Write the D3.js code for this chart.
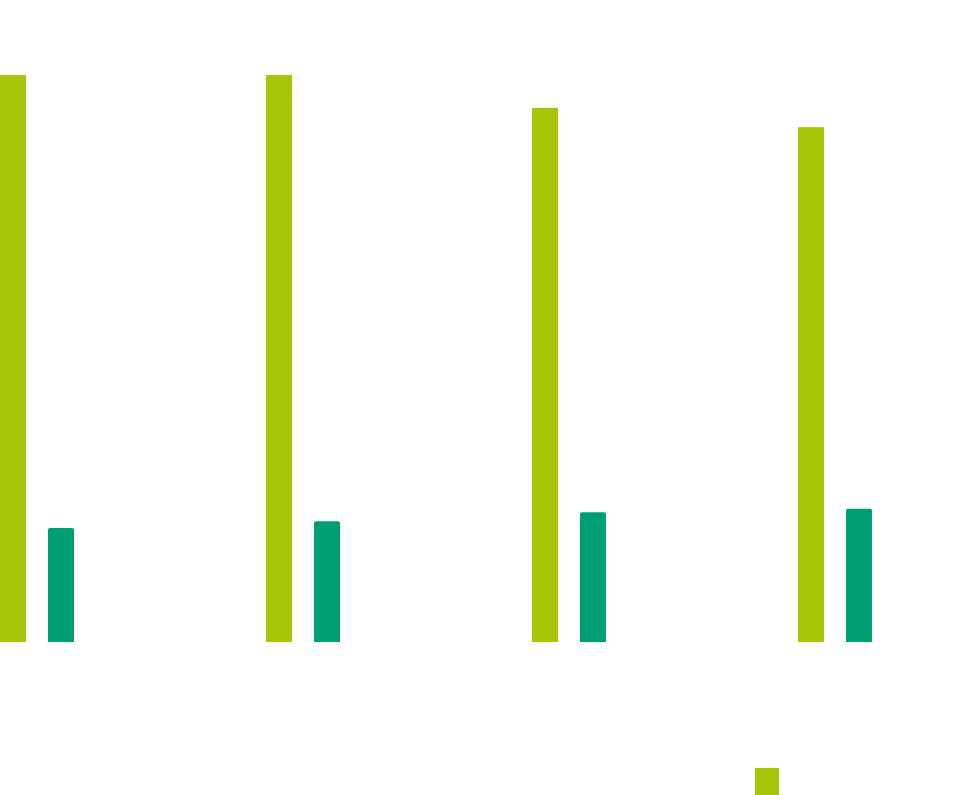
<!DOCTYPE html>
<html>
<head>
<meta charset="utf-8">
<script src="https://cdn.jsdelivr.net/npm/d3@7"></script>
<style>body{margin:0;background:#fff;}</style>
</head>
<body>
<svg id="chart" width="960" height="795"></svg>
<script>
const categories = ['A', 'B', 'C', 'D'];
const seriesA = [100, 100, 94.2, 90.8];
const seriesB = [20.1, 21.3, 22.9, 23.5];
const colors = ['#a8c605', '#009e73'];

const width = 960, height = 795;
const baseline = 642;
const svg = d3.select('#chart');

const x = d3.scaleBand().domain(categories).range([0, 1064]);
const y = d3.scaleLinear().domain([0, 100]).range([baseline, 75]);
const barW = 26;

// green bars
svg.selectAll('.a').data(seriesA).join('rect')
  .attr('x', (d, i) => x(categories[i]))
  .attr('y', d => y(d))
  .attr('width', barW)
  .attr('height', d => baseline - y(d))
  .attr('fill', colors[0]);

// teal bars with slightly rounded top
svg.selectAll('.b').data(seriesB).join('path')
  .attr('d', (d, i) => {
    const x0 = x(categories[i]) + 48, x1 = x0 + barW, t = y(d), r = 2;
    return `M${x0},${baseline}V${t + r}Q${x0},${t} ${x0 + r},${t}H${x1 - r}Q${x1},${t} ${x1},${t + r}V${baseline}Z`;
  })
  .attr('fill', colors[1]);

// legend swatch
svg.append('rect').attr('x', 755).attr('y', 768).attr('width', 24).attr('height', 30).attr('fill', colors[0]);
</script>
</body>
</html>
